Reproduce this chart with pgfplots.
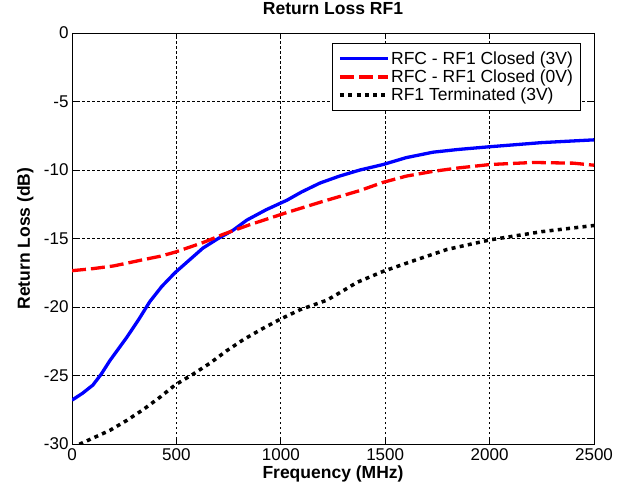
\documentclass[border=0pt]{standalone}
\usepackage{fontspec}
\setmainfont{Liberation Sans}
\usepackage{pgfplots}
\pgfplotsset{compat=1.18}
\begin{document}
\begin{tikzpicture}
\begin{axis}[
  scale only axis, width=522pt, height=411pt,
  xmin=0, xmax=2500, ymin=-30, ymax=0,
  xtick={0,500,1000,1500,2000,2500},
  ytick={-30,-25,-20,-15,-10,-5,0},
  /pgf/number format/assume math mode=true,
  scaled x ticks=false,
  xticklabel style={/pgf/number format/1000 sep={}},
  font=\fontsize{17}{20}\selectfont,
  tick align=inside, major tick length=5pt,
  xtick pos=both, ytick pos=both,
  axis line style={line width=0.9pt},
  tick style={line width=0.9pt, black},
  grid=major,
  major grid style={black, line width=0.7pt, dash pattern=on 2.5pt off 2.5pt},
  title={Return Loss RF1},
  title style={at={(axis description cs:0.5,1)}, anchor=base, yshift=12pt, font=\bfseries\fontsize{17.5}{20}\selectfont},
  xlabel={Frequency (MHz)},
  xlabel style={at={(axis description cs:0.5,0)}, anchor=base, yshift=-34pt, font=\bfseries\fontsize{17.5}{20}\selectfont},
  ylabel={Return Loss (dB)},
  ylabel style={at={(axis description cs:-0.0805,0.5)}, anchor=base, font=\bfseries\fontsize{17.5}{20}\selectfont},
  xticklabel style={anchor=base, yshift=-16pt},
  legend style={at={(axis description cs:0.975,0.9765)}, anchor=north east, draw=black, line width=0.9pt,
    font=\fontsize{17.5}{20}\selectfont, row sep=1pt, inner xsep=6pt, inner ysep=7pt,
    nodes={inner sep=1.5pt}},
  legend cell align=left,
  legend image code/.code={\draw[#1] (0pt,0pt) -- (48pt,0pt);},
  clip=true,
]
\addplot[blue, line width=3.3pt, line join=round] coordinates {
(0,-26.8) (50,-26.3) (100,-25.7) (140,-24.9) (182,-23.9) (263,-22.2) (320,-20.9) (373,-19.6) (430,-18.5) (493,-17.5)
(560,-16.6) (627,-15.7) (700,-15.0) (771,-14.4) (838,-13.65) (930,-12.9) (1030,-12.2) (1100,-11.6) (1188,-10.95) (1280,-10.45) (1379,-10.0)
(1490,-9.6) (1600,-9.1) (1729,-8.7) (1850,-8.5) (2002,-8.3) (2250,-8.0) (2500,-7.8)
};
\addlegendentry{RFC - RF1 Closed (3V)}
\addplot[red, line width=3.3pt, dash pattern=on 14pt off 5pt] coordinates {
(0,-17.35) (100,-17.2) (200,-17.0) (263,-16.8) (340,-16.55) (421,-16.3) (493,-16.0) (560,-15.65) (627,-15.3)
(723,-14.7) (850,-14.0) (940,-13.55) (1030,-13.1) (1200,-12.3) (1379,-11.5) (1490,-10.9) (1600,-10.45)
(1729,-10.1) (1850,-9.85) (2002,-9.6) (2208,-9.45) (2400,-9.5) (2500,-9.65)
};
\addlegendentry{RFC - RF1 Closed (0V)}
\addplot[black, line width=3.5pt, dash pattern=on 4pt off 4.3pt] coordinates {
(0,-30.3) (38,-30.0) (182,-29.0) (260,-28.3) (340,-27.5) (420,-26.6) (493,-25.7) (580,-24.9) (661,-24.1) (740,-23.2) (819,-22.4)
(910,-21.6) (996,-20.9) (1092,-20.2) (1221,-19.5) (1300,-18.8) (1365,-18.2) (1490,-17.4) (1640,-16.6) (1796,-15.8)
(2002,-15.1) (2250,-14.5) (2500,-14.05)
};
\addlegendentry{RF1 Terminated (3V)}
\end{axis}
\pgfresetboundingbox
\path[use as bounding box] ([shift={(-72pt,-49pt)}]current axis.south west) rectangle ([shift={(32pt,33pt)}]current axis.north east);
\end{tikzpicture}
\end{document}
